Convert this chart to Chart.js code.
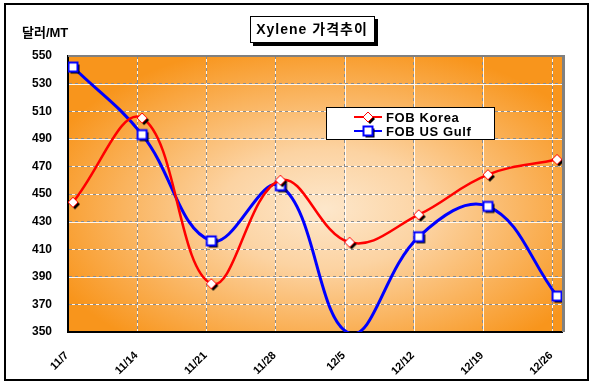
<!DOCTYPE html>
<html>
<head>
<meta charset="utf-8">
<script src="https://cdn.jsdelivr.net/npm/chart.js@4"></script>
<style>
  html, body { margin: 0; padding: 0; background: #fff; }
  #wrap { width: 594px; height: 385px; position: relative; }
</style>
</head>
<body>
<div id="wrap"><canvas id="xyleneChart" width="594" height="385"></canvas></div>
<script>
// weekly price points
const categories = ["11/7", "11/14", "11/21", "11/28", "12/5", "12/12", "12/19", "12/26"];
const fobKorea = [444, 505, 385, 460, 415, 435, 464, 475];
const fobUsGulf = [542, 493, 416, 456, 349, 419, 441, 376];
const yTicks = [350, 370, 390, 410, 430, 450, 470, 490, 510, 530, 550];

// excel draws a date axis: one week = 7 days, points sit mid-day
const DAYS_PER_WEEK = 7;
const Y_MIN = 350, Y_MAX = 550;
const dayTicks = categories.map((c, i) => i * DAYS_PER_WEEK);

const FONT = "'Liberation Sans', Arial, sans-serif";
const KFONT = "'Liberation Sans', 'Noto Sans CJK KR', sans-serif";

function makeMarker(kind) {
  const c = document.createElement("canvas");
  c.width = 18;
  c.height = 18;
  const g = c.getContext("2d");
  const shape = (cx, cy) => {
    g.beginPath();
    if (kind === "diamond") {
      g.moveTo(cx, cy - 5); g.lineTo(cx + 5, cy); g.lineTo(cx, cy + 5); g.lineTo(cx - 5, cy); g.closePath();
    } else {
      g.rect(cx - 4.5, cy - 4.5, 9, 9);
    }
  };
  // drop shadow first
  g.fillStyle = "#000";
  shape(11, 11);
  g.fill();
  shape(9, 9);
  g.fillStyle = "#fff";
  g.fill();
  g.lineWidth = kind === "diamond" ? 1 : 2;
  g.strokeStyle = kind === "diamond" ? "#ff0000" : "#0000ff";
  g.stroke();
  return c;
}
const diamond = makeMarker("diamond");
const square = makeMarker("square");

const toPoints = (arr) => arr.map((v, i) => ({ x: i * DAYS_PER_WEEK + 0.5, y: v }));
// excel leaves out markers that fall outside the axis range
const markerRadius = (ctx) => (ctx.raw && ctx.raw.y < Y_MIN ? 0 : 5);

const backdrop = {
  id: "backdrop",
  beforeDraw(chart) {
    const { ctx, chartArea: a, scales } = chart;
    ctx.save();
    ctx.fillStyle = "#fff";
    ctx.fillRect(0, 0, chart.width, chart.height);
    ctx.strokeStyle = "#000";
    ctx.lineWidth = 2;
    ctx.strokeRect(5, 4, 583, 376);

    // plot area: orange "from centre" fill
    ctx.save();
    ctx.beginPath();
    ctx.rect(a.left, a.top, a.right - a.left, a.bottom - a.top);
    ctx.clip();
    const cx = (a.left + a.right) / 2 + 10, cy = (a.top + a.bottom) / 2 + 15;
    ctx.translate(cx, cy);
    ctx.scale(1.75, 1);
    const gr = ctx.createRadialGradient(0, 0, 0, 0, 0, 170);
    gr.addColorStop(0, "#fde7cb");
    gr.addColorStop(0.35, "#fcd3a2");
    gr.addColorStop(1, "#f8951c");
    ctx.fillStyle = gr;
    ctx.fillRect(-400, -300, 800, 600);
    ctx.restore();

    // white under-stroke of the dashed grid
    ctx.strokeStyle = "rgba(255,255,255,0.9)";
    ctx.lineWidth = 1;
    ctx.beginPath();
    yTicks.forEach((v) => {
      const y = Math.round(scales.y.getPixelForValue(v)) + 0.5;
      ctx.moveTo(a.left, y); ctx.lineTo(a.right, y);
    });
    dayTicks.forEach((v) => {
      const x = Math.round(scales.x.getPixelForValue(v)) + 0.5;
      ctx.moveTo(x, a.top); ctx.lineTo(x, a.bottom);
    });
    ctx.stroke();
    ctx.restore();
  },
  afterDraw(chart) {
    const { ctx, chartArea: a } = chart;
    ctx.save();
    // grey frame top / right
    ctx.fillStyle = "#808080";
    ctx.fillRect(a.left, a.top - 1, a.right - a.left + 3, 2);
    ctx.fillRect(a.right, a.top - 1, 3, a.bottom - a.top + 1);

    // title box
    ctx.fillStyle = "#000";
    ctx.fillRect(253, 19, 125, 27);
    ctx.fillStyle = "#fff";
    ctx.fillRect(250, 16, 125, 27);
    ctx.strokeStyle = "#000";
    ctx.lineWidth = 1;
    ctx.strokeRect(250.5, 16.5, 124, 26);
    ctx.fillStyle = "#000";
    ctx.font = "bold 14px " + KFONT;
    ctx.textBaseline = "middle";
    ctx.textAlign = "center";
    ctx.letterSpacing = "1px";
    ctx.fillText("Xylene 가격추이", 312, 30);

    // unit label
    ctx.font = "bold 13px " + KFONT;
    ctx.letterSpacing = "0px";
    ctx.textAlign = "left";
    ctx.fillText("달러/MT", 22, 33);

    // legend
    ctx.fillStyle = "#fff";
    ctx.fillRect(326, 107, 169, 33);
    ctx.strokeRect(326.5, 107.5, 168, 32);
    const rows = [
      { label: "FOB Korea", color: "#ff0000", marker: diamond, y: 117 },
      { label: "FOB US Gulf", color: "#0000ff", marker: square, y: 131 }
    ];
    ctx.font = "bold 13px " + FONT;
    ctx.letterSpacing = "0.6px";
    rows.forEach((r) => {
      ctx.strokeStyle = r.color;
      ctx.lineWidth = 2;
      ctx.beginPath();
      ctx.moveTo(354, r.y); ctx.lineTo(382, r.y);
      ctx.stroke();
      ctx.drawImage(r.marker, 368 - 9, r.y - 9);
      ctx.fillStyle = "#000";
      ctx.fillText(r.label, 386, r.y + 1);
    });
    ctx.restore();
  }
};

new Chart(document.getElementById("xyleneChart"), {
  type: "line",
  data: {
    datasets: [
      {
        label: "FOB Korea",
        data: toPoints(fobKorea),
        borderColor: "#ff0000",
        borderWidth: 2.5,
        tension: 0.4,
        pointStyle: diamond,
        pointRadius: markerRadius
      },
      {
        label: "FOB US Gulf",
        data: toPoints(fobUsGulf),
        borderColor: "#0000ff",
        borderWidth: 3,
        tension: 0.4,
        pointStyle: square,
        pointRadius: markerRadius
      }
    ]
  },
  options: {
    responsive: false,
    animation: false,
    events: [],
    layout: { padding: { top: 56, right: 32, left: 0, bottom: 0 } },
    plugins: { legend: { display: false }, tooltip: { enabled: false } },
    scales: {
      x: {
        type: "linear",
        min: 0,
        max: 50,
        afterBuildTicks: (s) => { s.ticks = dayTicks.map((v) => ({ value: v })); },
        afterFit: (s) => { s.height = 53; },
        grid: { color: "#8c8c8c", lineWidth: 1, drawTicks: false },
        border: { color: "#000", width: 2, dash: [3, 3] },
        ticks: {
          color: "#000",
          font: { family: FONT, size: 11, weight: "bold" },
          minRotation: 45,
          maxRotation: 45,
          padding: 17,
          labelOffset: -1,
          autoSkip: false,
          callback: (v) => categories[dayTicks.indexOf(v)]
        }
      },
      y: {
        min: Y_MIN,
        max: Y_MAX,
        afterBuildTicks: (s) => { s.ticks = yTicks.map((v) => ({ value: v })); },
        afterFit: (s) => { s.width = 68; },
        grid: { color: "#8c8c8c", lineWidth: 1, drawTicks: false },
        border: { color: "#000", width: 2, dash: [3, 3] },
        ticks: {
          color: "#000",
          font: { family: FONT, size: 12, weight: "bold" },
          padding: 16
        }
      }
    }
  },
  plugins: [backdrop]
});
</script>
</body>
</html>
